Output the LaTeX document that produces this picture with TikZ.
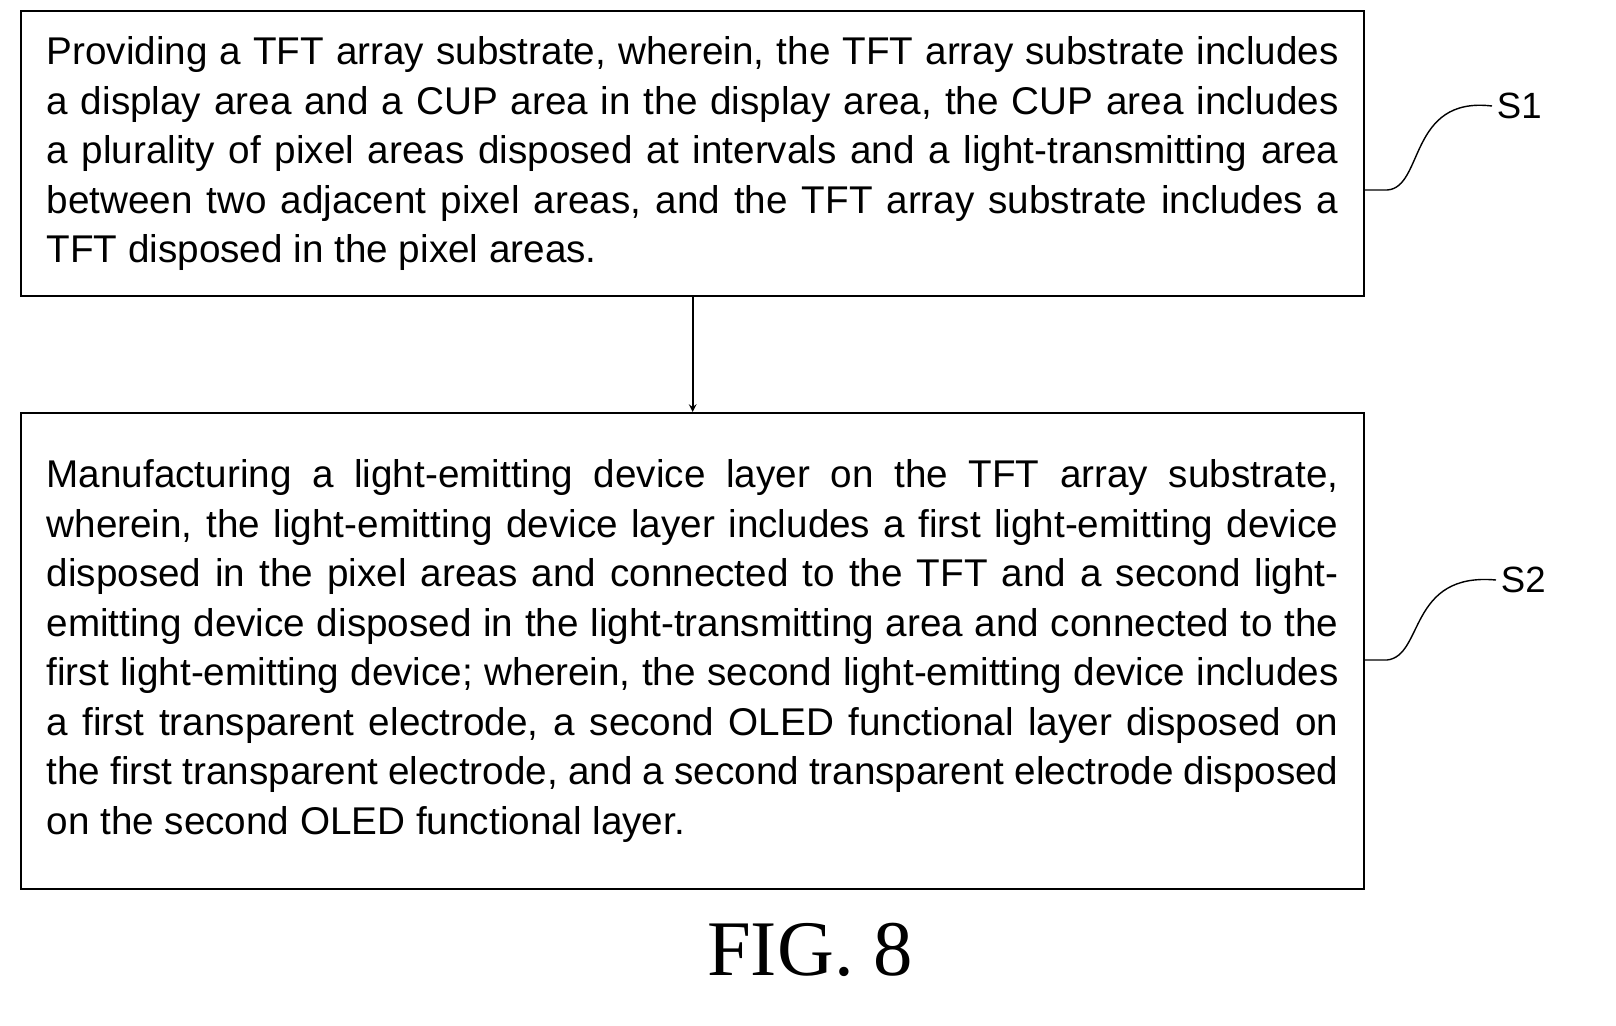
\documentclass[tikz,border=0pt]{standalone}
\usepackage{fontspec}
\setmainfont{Liberation Sans}
\newfontfamily\capfont{Liberation Serif}
\usetikzlibrary{positioning}

\begin{document}
\begin{tikzpicture}[>=stealth]
   \useasboundingbox (0,0) rectangle (40.4,-25.625);
   \tikzset{stepbox/.style={draw=black, line width=1.6pt, anchor=north west, minimum width=33.575cm, inner sep=0pt},
            steptext/.style={text width=32.3cm, align=justify, font=\fontsize{27.5}{35.2}\selectfont,
                             execute at begin node={\hyphenpenalty=10000\relax}},
            tag/.style={font=\fontsize{26}{30}\selectfont}}
   \node[stepbox, minimum height=7.125cm] (s1box) at (0.5,-0.25) {};
   \node[steptext] (s1text) at (s1box.center) {Providing a TFT array substrate, wherein, the TFT array substrate includes a display area and a CUP area in the display area, the CUP area includes a plurality of pixel areas disposed at intervals and a light-transmitting area between two adjacent pixel areas, and the TFT array substrate includes a TFT disposed in the pixel areas.};
   \node[stepbox, minimum height=11.9cm] (s2box) at (0.5,-10.3) {};
   \node[steptext] (s2text) at (s2box.center) {Manufacturing a light-emitting device layer on the TFT array substrate, wherein, the light-emitting device layer includes a first light-emitting device disposed in the pixel areas and connected to the TFT and a second light-emitting device disposed in the light-transmitting area and connected to the first light-emitting device; wherein, the second light-emitting device includes a first transparent electrode, a second OLED functional layer disposed on the first transparent electrode, and a second transparent electrode disposed on the second OLED functional layer.};
   \draw[->, line width=1.4pt] (s1box.south) -- (s2box.north);
   % step tags
   \node[tag, anchor=west] (s1) at (37.3,-2.65) {S1};
   \node[tag, anchor=west] (s2) at (37.4,-14.5) {S2};
   \coordinate (s1end) at (34.075,-4.75);
   \coordinate (s2end) at (34.075,-16.5);
   \draw[line width=1pt] (s1end) -- ++(0.6,0) .. controls (35.6,-4.7) and (35.2,-2.4) .. (s1.west);
   \draw[line width=1pt] (s2end) -- ++(0.6,0) .. controls (35.6,-16.4) and (35.2,-14.3) .. (s2.west);
   \node[font=\capfont\fontsize{56}{60}\selectfont] (fig) at (20.25,-23.75) {FIG. 8};
\end{tikzpicture}
\end{document}
